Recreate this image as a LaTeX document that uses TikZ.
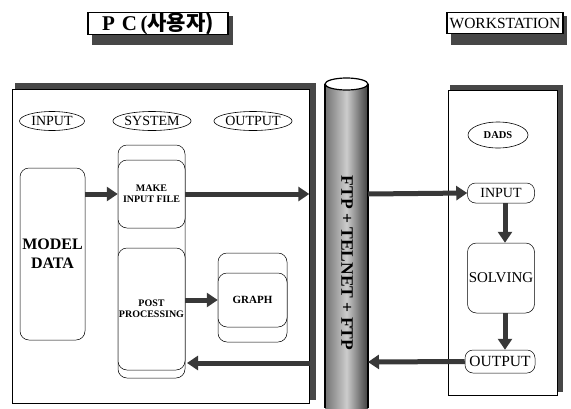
\documentclass[tikz,border=0pt]{standalone}
\usepackage{fontspec}
\setmainfont{Liberation Serif}
\newfontfamily\krfont{Noto Sans CJK KR}
\usetikzlibrary{arrows.meta,shapes.geometric}
\tikzset{
  ell/.style={ellipse, draw, line width=0.6pt, minimum width=65pt, minimum height=19pt, inner sep=0pt, font=\fontsize{14}{15}\selectfont},
  rbox/.style={draw, line width=0.5pt, rounded corners=9pt, inner sep=0pt, fill=white},
  bigarrow/.style={draw=black!78, line width=5pt, -{Triangle[length=11pt,width=14pt]}},
  shadowfill/.style={fill=black!72},
  bl/.style={font=\bfseries\fontsize{10}{11}\selectfont, align=center},
}
\begin{document}
\begin{tikzpicture}[x=1pt,y=-1pt]
\useasboundingbox (0,0) rectangle (571,408);

% title boxes
\fill[shadowfill] (92,16) rectangle (233,45);
\node[draw, line width=1.6pt, fill=white, minimum width=140pt, minimum height=22pt, inner sep=0pt,
      font=\bfseries\fontsize{21}{22}\selectfont] (pc) at (158,23.5) {P\,\,C\,(\krfont\bfseries 사용자)};
\fill[shadowfill] (451,16) rectangle (567,45);
\node[draw, line width=1.6pt, fill=white, minimum width=116pt, minimum height=21pt, inner sep=0pt,
      font=\fontsize{15.5}{17}\selectfont] (ws) at (505,23) {WORKSTATION};

% left panel
\fill[shadowfill] (15,83) rectangle (316,400);
\node[draw, line width=0.6pt, fill=white, minimum width=297pt, minimum height=314pt, inner sep=0pt] (lp) at (160.5,246) {};

% right panel
\fill[shadowfill] (450,85) rectangle (563,392);
\node[draw, line width=0.6pt, fill=white, minimum width=109pt, minimum height=305pt, inner sep=0pt] (rp) at (502.5,242.5) {};

% left panel content
\node[ell] (in) at (52,121) {INPUT};
\node[ell] (sys) at (152,121) {SYSTEM};
\node[ell] (out) at (253,121) {OUTPUT};

\node[rbox, minimum width=65pt, minimum height=172pt] (model) at (52.5,254) {};
\node[font=\bfseries\fontsize{16}{19}\selectfont, align=center] (modeltxt) at (model.center) {MODEL\\DATA};

\node[rbox, minimum width=67pt, minimum height=233pt] (sysbox) at (151.5,261.5) {};
\node[rbox, minimum width=67pt, minimum height=68pt, bl] (make) at (151.5,194) {MAKE\\INPUT FILE};
\node[rbox, minimum width=67pt, minimum height=122pt, bl] (post) at (151.5,309) {POST\\PROCESSING};

\node[rbox, minimum width=69pt, minimum height=89pt] (graphout) at (252.5,297.5) {};
\node[rbox, minimum width=69pt, minimum height=54pt, font=\bfseries\fontsize{11}{12}\selectfont] (graph) at (252.5,300) {GRAPH};

\coordinate (lpout) at (lp.east |- make.east);
\coordinate (lpin) at (310,363);
\coordinate (postret) at (187,363);

\draw[bigarrow] (model.east |- make.west) -- (make.west);
\draw[bigarrow] (make.east) -- (lpout);
\draw[bigarrow] (post.east |- graph.west) -- (graph.west);
\draw[bigarrow] (lpin) -- (postret);

% pipe
\shade[left color=black!55, right color=black!75, middle color=black!20] (325,84) rectangle (368,408);
\draw[line width=1.6pt] (325,84) -- (325,408) (368,84) -- (368,408);
\draw[line width=1.2pt, fill=white] (346.5,84) ellipse [x radius=21.5pt, y radius=6pt];
\node[rotate=-90, font=\bfseries\fontsize{17.5}{20}\selectfont] (pipe) at (347,263) {FTP + TELNET + FTP};
\coordinate (pipeR1) at (368,194);
\coordinate (pipeR2) at (368,362);

% right panel content
\node[ell, minimum width=60pt, minimum height=26pt, font=\bfseries\fontsize{10.5}{11}\selectfont] (dads) at (498,135) {DADS};
\node[rbox, minimum width=67pt, minimum height=20pt, rounded corners=8pt, font=\fontsize{14}{15}\selectfont] (rin) at (501,193) {INPUT};
\node[rbox, minimum width=67pt, minimum height=70pt, font=\fontsize{15}{16}\selectfont] (solve) at (501,278) {SOLVING};
\node[rbox, minimum width=70pt, minimum height=23pt, rounded corners=8pt, font=\fontsize{15.5}{16}\selectfont] (rout) at (500,361.5) {OUTPUT};

\draw[bigarrow] (pipeR1) -- (rin.west);
\draw[bigarrow] (rout.west) -- (pipeR2);
\draw[bigarrow] (rin.south -| 505,0) -- (solve.north -| 505,0);
\draw[bigarrow] (solve.south -| 505,0) -- (rout.north -| 505,0);
\end{tikzpicture}
\end{document}
